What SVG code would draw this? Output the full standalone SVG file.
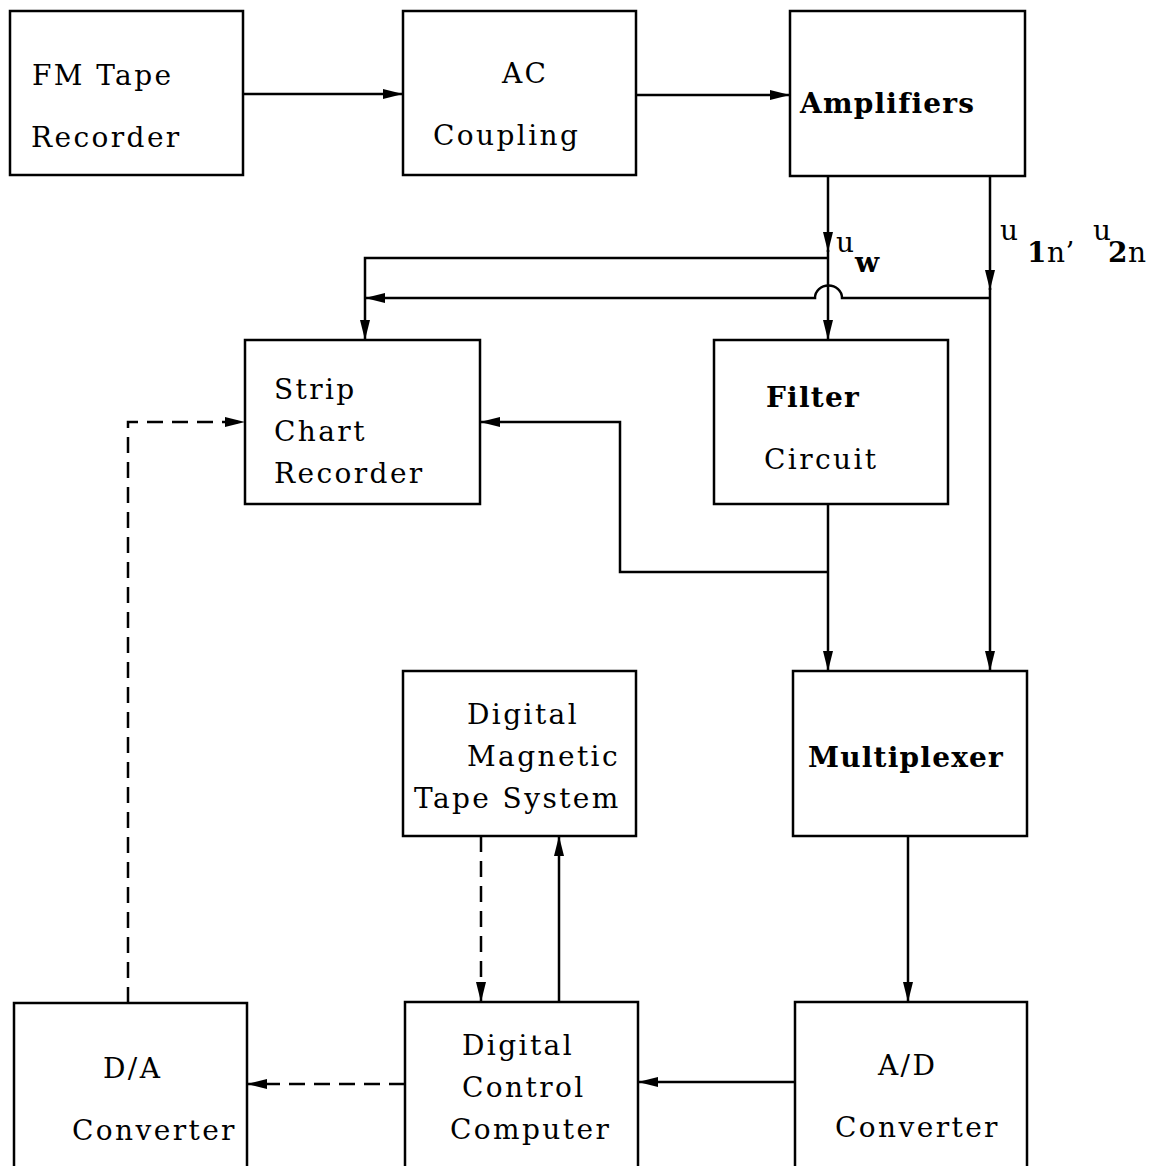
<svg xmlns="http://www.w3.org/2000/svg" width="1165" height="1166" viewBox="0 0 1165 1166">
<style>
.box{fill:#fff;stroke:#000;stroke-width:2.5}
.t{font-family:"DejaVu Serif","Liberation Serif",serif;font-size:28px;fill:#000;letter-spacing:2.4px}
.b{font-weight:bold;letter-spacing:1.2px}
.lb{letter-spacing:0.5px}
.ln{fill:none;stroke:#000;stroke-width:2.5}
.d{stroke-dasharray:16,9}
</style>
<defs>
<marker id="ah" markerUnits="userSpaceOnUse" markerWidth="20" markerHeight="12" refX="20" refY="6" orient="auto">
<path d="M0,1 L20,6 L0,11 Z" fill="#000"/>
</marker>
</defs>
<rect width="1165" height="1166" fill="#fff"/>
<g id="connectors">
<path class="ln" d="M243,94 H403" marker-end="url(#ah)"/>
<path class="ln" d="M636,95 H790" marker-end="url(#ah)"/>
<path class="ln" d="M828,176 V252" marker-end="url(#ah)"/>
<path class="ln" d="M828,250 V340" marker-end="url(#ah)"/>
<path class="ln" d="M828,258 H365 V340" marker-end="url(#ah)"/>
<path class="ln" d="M990,298 H842 A13,12 0 0 0 815,298 H365" marker-end="url(#ah)"/>
<path class="ln" d="M990,176 V290" marker-end="url(#ah)"/>
<path class="ln" d="M990,288 V671" marker-end="url(#ah)"/>
<path class="ln" d="M828,504 V671" marker-end="url(#ah)"/>
<path class="ln" d="M828,572 H620 V422 H480" marker-end="url(#ah)"/>
<path class="ln" d="M908,836 V1002" marker-end="url(#ah)"/>
<path class="ln" d="M795,1082 H638" marker-end="url(#ah)"/>
<path class="ln d" d="M405,1084 H247" marker-end="url(#ah)"/>
<path class="ln d" d="M128,1003 V422 H245" marker-end="url(#ah)"/>
<path class="ln d" d="M481,836 V1002" marker-end="url(#ah)"/>
<path class="ln" d="M559,1002 V836" marker-end="url(#ah)"/>
</g>
<g id="fm-tape-recorder">
<rect class="box" x="10" y="11" width="233" height="164"/>
<text class="t" x="32" y="85">FM Tape</text>
<text class="t" x="31" y="147">Recorder</text>
</g>
<g id="ac-coupling">
<rect class="box" x="403" y="11" width="233" height="164"/>
<text class="t" x="502" y="83">AC</text>
<text class="t" x="433" y="145">Coupling</text>
</g>
<g id="amplifiers">
<rect class="box" x="790" y="11" width="235" height="165"/>
<text class="t b" x="800" y="113">Amplifiers</text>
</g>
<g id="strip-chart-recorder">
<rect class="box" x="245" y="340" width="235" height="164"/>
<text class="t" x="274" y="399">Strip</text>
<text class="t" x="274" y="441">Chart</text>
<text class="t" x="274" y="483">Recorder</text>
</g>
<g id="filter-circuit">
<rect class="box" x="714" y="340" width="234" height="164"/>
<text class="t b" x="766" y="407">Filter</text>
<text class="t" x="764" y="469">Circuit</text>
</g>
<g id="digital-magnetic-tape-system">
<rect class="box" x="403" y="671" width="233" height="165"/>
<text class="t" x="467" y="724">Digital</text>
<text class="t" x="467" y="766">Magnetic</text>
<text class="t" x="414" y="808">Tape System</text>
</g>
<g id="multiplexer">
<rect class="box" x="793" y="671" width="234" height="165"/>
<text class="t b" x="808" y="767">Multiplexer</text>
</g>
<g id="da-converter">
<rect class="box" x="14" y="1003" width="233" height="170"/>
<text class="t" x="103" y="1078">D/A</text>
<text class="t" x="72" y="1140">Converter</text>
</g>
<g id="digital-control-computer">
<rect class="box" x="405" y="1002" width="233" height="171"/>
<text class="t" x="462" y="1055">Digital</text>
<text class="t" x="462" y="1097">Control</text>
<text class="t" x="450" y="1139">Computer</text>
</g>
<g id="ad-converter">
<rect class="box" x="795" y="1002" width="232" height="171"/>
<text class="t" x="878" y="1075">A/D</text>
<text class="t" x="835" y="1137">Converter</text>
</g>
<g id="labels">
<text class="t lb" x="836" y="252" font-size="26">u</text>
<text class="t b" x="855" y="272" font-size="24">w</text>
<text class="t lb" x="1000" y="240" font-size="26">u</text>
<text class="t lb" x="1027" y="262" font-size="26"><tspan font-weight="bold">1</tspan>n’</text>
<text class="t lb" x="1093" y="240" font-size="26">u</text>
<text class="t lb" x="1108" y="262" font-size="26"><tspan font-weight="bold">2</tspan>n</text>
</g>
</svg>
